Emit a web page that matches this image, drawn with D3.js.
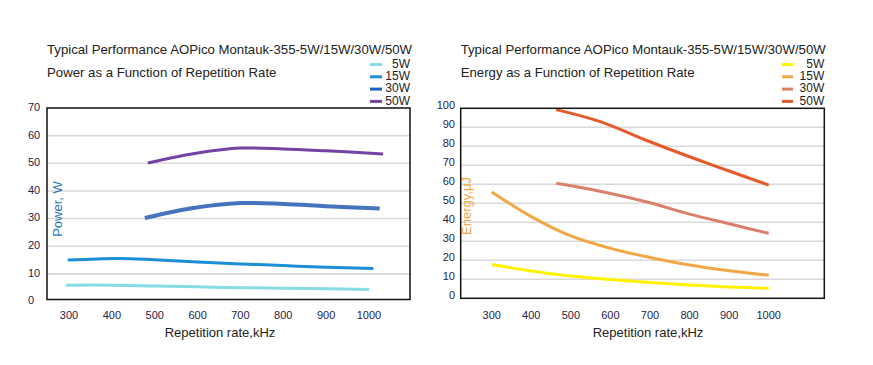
<!DOCTYPE html>
<html><head><meta charset="utf-8">
<script src="https://cdn.jsdelivr.net/npm/d3@7"></script>
<style>body{margin:0;background:#fff;} text{font-family:"Liberation Sans",Arial,sans-serif;}</style>
</head><body>
<svg id="c" width="873" height="365"></svg>
<script>
const title = "Typical Performance AOPico Montauk-355-5W/15W/30W/50W";
const powerSubtitle = "Power as a Function of Repetition Rate";
const energySubtitle = "Energy as a Function of Repetition Rate";
const xTicks = [300, 400, 500, 600, 700, 800, 900, 1000];
const powerTicks = [0, 10, 20, 30, 40, 50, 60, 70];
const energyTicks = [0, 10, 20, 30, 40, 50, 60, 70, 80, 90, 100];
const seriesNames = ["5W", "15W", "30W", "50W"];

// Power (W) vs rep rate (kHz)
const power5W  = [[293,5.9],[400,5.9],[500,5.6],[600,5.3],[700,5.0],[800,4.8],[900,4.6],[1000,4.3]];
const power15W = [[297,15.0],[415,15.6],[500,15.1],[600,14.3],[700,13.6],[800,13.0],[900,12.4],[1010,11.9]];
const power30W = [[477,30.2],[590,33.8],[700,35.6],[800,35.3],[900,34.5],[1025,33.6]];
const power50W = [[484,50.1],[600,53.7],[700,55.5],[800,55.2],[900,54.5],[1033,53.4]];

// Energy (uJ) vs rep rate (kHz)
const energy5W  = [[300,17.8],[400,14.4],[500,11.7],[600,9.9],[700,8.3],[800,7.0],[900,6.0],[1000,5.2]];
const energy15W = [[300,56.0],[400,43.0],[500,32.8],[600,26.3],[700,21.5],[800,17.5],[900,14.5],[1000,12.1]];
const energy30W = [[463,60.5],[570,56.5],[700,50.3],[800,44.3],[900,39.2],[1000,34.2]];
const energy50W = [[463,99.3],[574,93.0],[700,82.4],[800,74.5],[900,67.0],[1000,59.6]];

const powerColors = ["#86dbe4", "#1b8fd7", "#4673be", "#7342a2"];
const powerLegendColors = ["#86dbe4", "#1b8fd7", "#1e63c0", "#7342a2"];
const powerWidths = [3, 3, 4, 3];
const energyColors = ["#fff200", "#f0a744", "#da806a", "#e55a2a"];

const svg = d3.select("#c");
const tickColor = "#1f2248";

function panel(cfg) {
  const g = svg.append("g");
  const x = d3.scaleLinear().domain([300, 1000]).range(cfg.xr);
  const y = d3.scaleLinear().domain(cfg.yd).range(cfg.yr);
  const [L, R] = cfg.box;
  g.append("text").attr("x", L).attr("y", 54).attr("font-size", 13.2).attr("fill", "#222").text(title);
  g.append("text").attr("x", L).attr("y", 77).attr("font-size", 13.2).attr("fill", "#222").text(cfg.subtitle);
  g.selectAll(".grid").data(cfg.ticks.slice(1, -1)).join("line")
    .attr("x1", L).attr("x2", R).attr("y1", d => y(d)).attr("y2", d => y(d))
    .attr("stroke", "#d9d9d9").attr("stroke-width", 1.6);
  g.selectAll(".yt").data(cfg.ticks).join("text")
    .attr("x", cfg.ytx).attr("y", d => y(d) + cfg.ytdy).attr("text-anchor", cfg.ytAnchor)
    .attr("dominant-baseline", "middle").attr("font-size", 11).attr("fill", tickColor).text(d => d);
  g.selectAll(".xt").data(xTicks).join("text")
    .attr("x", d => x(d)).attr("y", 319).attr("text-anchor", "middle")
    .attr("font-size", 11).attr("fill", tickColor).text(d => d);
  g.append("text").attr("x", cfg.xtitleX).attr("y", 337).attr("text-anchor", "middle")
    .attr("font-size", 13).attr("fill", "#222").text("Repetition rate,kHz");
  g.append("text").attr("transform", `translate(${cfg.ylabX},${cfg.ylabY}) rotate(-90)`)
    .attr("text-anchor", "middle").attr("font-size", 13).attr("fill", cfg.ylabColor).text(cfg.ylab);
  const line = d3.line().x(d => x(d[0])).y(d => y(d[1])).curve(d3.curveCatmullRom.alpha(0.5));
  cfg.series.forEach((s, i) => {
    g.append("path").datum(s).attr("d", line).attr("fill", "none")
      .attr("stroke", cfg.colors[i]).attr("stroke-width", cfg.widths[i]).attr("stroke-linecap", "butt");
  });
  g.append("rect").attr("x", L).attr("y", y(cfg.yd[1])).attr("width", R - L)
    .attr("height", y(cfg.yd[0]) - y(cfg.yd[1]) - cfg.frameTrim)
    .attr("fill", "none").attr("stroke", "#111").attr("stroke-width", 1.5);
  const lg = g.selectAll(".lg").data(seriesNames).join("g")
    .attr("transform", (d, i) => `translate(0,${64.5 + i * 12.3})`);
  lg.append("line").attr("x1", cfg.legSw[0]).attr("x2", cfg.legSw[1]).attr("y1", 0).attr("y2", 0)
    .attr("stroke", (d, i) => cfg.legColors[i]).attr("stroke-width", 3);
  lg.append("text").attr("x", R).attr("y", 0).attr("dominant-baseline", "middle")
    .attr("text-anchor", "end").attr("font-size", 12).attr("fill", "#222").text(d => d);
}

panel({
  xr: [69, 369], yd: [0, 70], yr: [301.5, 108], box: [47, 410], ticks: powerTicks,
  ytx: 28, ytdy: 0, ytAnchor: "start", subtitle: powerSubtitle,
  xtitleX: 220, ylab: "Power, W", ylabX: 62, ylabY: 209, ylabColor: "#2e75b6",
  series: [power5W, power15W, power30W, power50W], colors: powerColors, widths: powerWidths,
  legColors: powerLegendColors, legSw: [370, 382], frameTrim: 2
});
panel({
  xr: [491.7, 768.7], yd: [0, 100], yr: [298.3, 108.3], box: [460.7, 824.3], ticks: energyTicks,
  ytx: 455, ytdy: -2, ytAnchor: "end", subtitle: energySubtitle,
  xtitleX: 648, ylab: "Energy,μJ", ylabX: 471, ylabY: 206, ylabColor: "#f0a744",
  series: [energy5W, energy15W, energy30W, energy50W], colors: energyColors, widths: [3, 3, 3, 3],
  legColors: energyColors, legSw: [782, 793], frameTrim: 0
});
</script>
</body></html>
